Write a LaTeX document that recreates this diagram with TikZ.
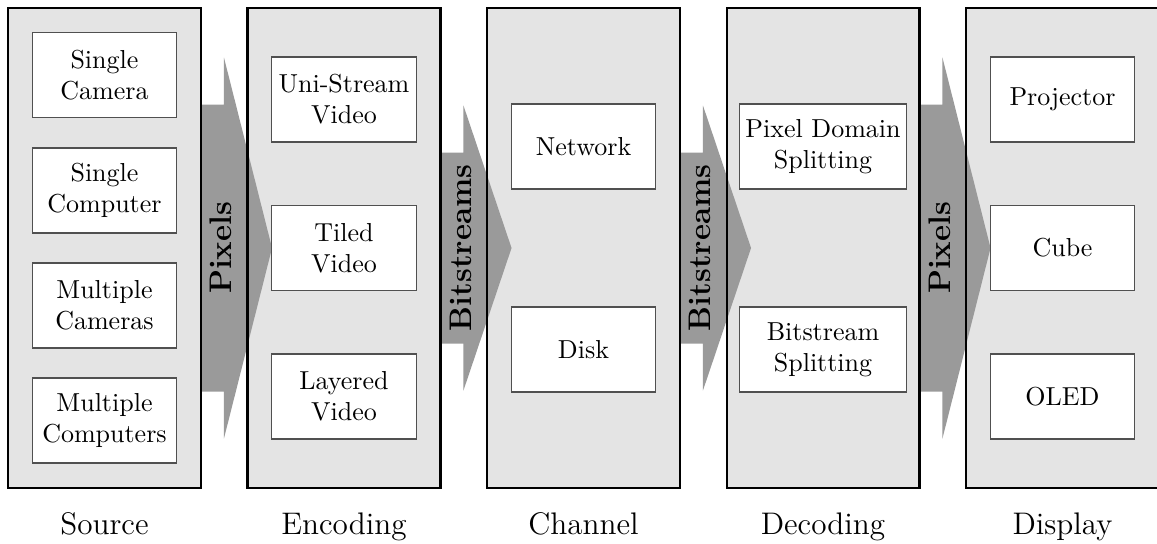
\documentclass[tikz,border=0pt]{standalone}
\usetikzlibrary{calc,backgrounds}

\definecolor{stagefill}{RGB}{228,228,228}
\definecolor{flowfill}{RGB}{154,154,154}
\definecolor{itemline}{RGB}{80,80,80}

\tikzset{
  stage/.style={draw=black, line width=0.8pt, minimum width=74.2pt,
    minimum height=184.6pt, inner sep=0pt, outer sep=0pt},
  item/.style={draw=itemline, line width=0.4pt, fill=white,
    minimum width=55.4pt, minimum height=32.7pt, align=center,
    inner xsep=2pt, font=\normalsize},
  wideitem/.style={item, minimum width=63.9pt},
  stagelabel/.style={anchor=base, font=\large},
  flowlabel/.style={rotate=90, font=\large\bfseries, inner sep=0pt},
}

% block arrow from stage #1 to stage #2: body half height #3, head half height #4,
% text #5, label node name #6
\newcommand\stagearrow[6]{%
  \begin{scope}[on background layer]
    \fill[flowfill] ($(#1.east)+(0,-#3)$) -- ($(#1.east)+(23,-#3)$)
      -- ($(#1.east)+(23,-#4)$) -- ($(#2.west)+(24.5,0)$)
      -- ($(#1.east)+(23,#4)$) -- ($(#1.east)+(23,#3)$)
      -- ($(#1.east)+(0,#3)$) -- cycle;
  \end{scope}
  \node[flowlabel] (#6) at ($(#1.east)+(20,0)$) {#5};
}

\begin{document}
\begin{tikzpicture}[x={(0.3846pt,0)}, y={(0,-0.3846pt)}]
  \useasboundingbox (0,0) rectangle (1157,544);

  % stage columns
  \node[stage] (src) at (104.5,248) {};
  \node[stage] (enc) at (344,248) {};
  \node[stage] (chn) at (583.5,248) {};
  \node[stage] (dec) at (823,248) {};
  \node[stage] (dsp) at (1062.5,248) {};

  \begin{scope}[on background layer]
    \foreach \s in {src,enc,chn,dec,dsp}
      \fill[stagefill] (\s.south west) rectangle (\s.north east);
  \end{scope}

  % flows between stages
  \stagearrow{src}{enc}{143.5}{190.5}{Pixels}{f1}
  \stagearrow{enc}{chn}{95.5}{142.5}{Bitstreams}{f2}
  \stagearrow{chn}{dec}{95.5}{142.5}{Bitstreams}{f3}
  \stagearrow{dec}{dsp}{143.5}{190.5}{Pixels}{f4}

  % source
  \node[item] (s1) at ($(src.center)+(0,-173)$) {Single\\Camera};
  \node[item] (s2) at ($(src.center)+(0,-57.5)$) {Single\\Computer};
  \node[item] (s3) at ($(src.center)+(0,57.5)$) {Multiple\\Cameras};
  \node[item] (s4) at ($(src.center)+(0,172.5)$) {Multiple\\Computers};

  % encoding
  \node[item] (e1) at ($(enc.center)+(0,-148.5)$) {Uni-Stream\\Video};
  \node[item] (e2) at (enc.center) {Tiled\\Video};
  \node[item] (e3) at ($(enc.center)+(0,148.5)$) {Layered\\Video};

  % channel
  \node[item] (c1) at ($(chn.center)+(0,-101.5)$) {Network};
  \node[item] (c2) at ($(chn.center)+(0,101.5)$) {Disk};

  % decoding
  \node[wideitem] (d1) at ($(dec.center)+(0,-101.5)$) {Pixel Domain\\Splitting};
  \node[wideitem] (d2) at ($(dec.center)+(0,101.5)$) {Bitstream\\Splitting};

  % display
  \node[item] (p1) at ($(dsp.center)+(0,-148.5)$) {Projector};
  \node[item] (p2) at (dsp.center) {Cube};
  \node[item] (p3) at ($(dsp.center)+(0,148.5)$) {OLED};

  % stage names
  \node[stagelabel] (lsrc) at ($(src.south)+(0,47)$) {Source};
  \node[stagelabel] (lenc) at ($(enc.south)+(0,47)$) {Encoding};
  \node[stagelabel] (lchn) at ($(chn.south)+(0,47)$) {Channel};
  \node[stagelabel] (ldec) at ($(dec.south)+(0,47)$) {Decoding};
  \node[stagelabel] (ldsp) at ($(dsp.south)+(0,47)$) {Display};
\end{tikzpicture}
\end{document}
